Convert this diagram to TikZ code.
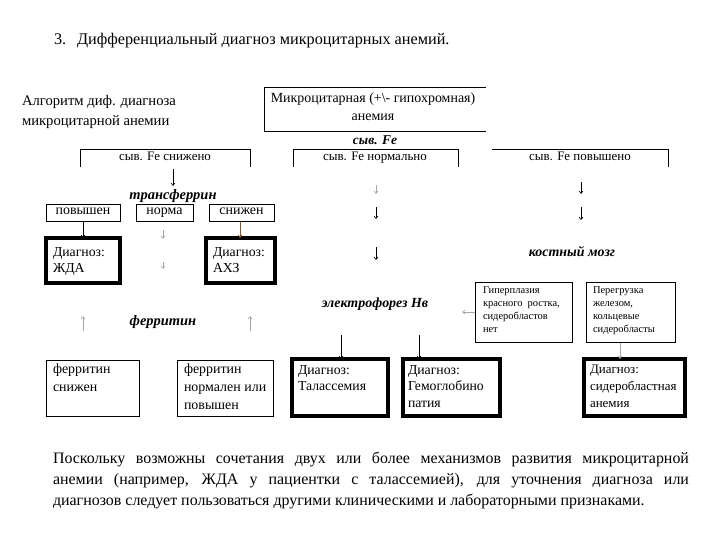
\documentclass[tikz,border=0pt]{standalone}
\usepackage{fontspec}
\setmainfont{Liberation Serif}
\usetikzlibrary{arrows.meta,fit}
\begin{document}
\begin{tikzpicture}[x=1bp,y=-1bp,
  every node/.style={inner sep=0pt, outer sep=0pt},
  frame/.style={fit={#1}, inner sep=0pt},
  thin/.style={draw, line width=0.9bp},
  thickb/.style={draw, line width=3.2bp},
  cen/.style={text height=0.7em, text depth=0.2em},
  txt/.style={font=\fontsize{14}{17}\selectfont, align=left},
  dtxt/.style={font=\fontsize{13.8}{17}\selectfont, align=left, anchor=north west},
  small/.style={font=\fontsize{13}{16}\selectfont, cen},
  lbl/.style={font=\fontsize{14.5}{17}\selectfont\bfseries\itshape, cen},
  arr/.style={-{Straight Barb[length=2.5bp,width=4bp]}, line width=0.6bp},
  pale/.style={arr, black!35}]
\useasboundingbox (0,0) rectangle (720,540);

% title and heading
\node[anchor=west, font=\fontsize{16.3}{18}\selectfont, cen] (title) at (54,42) {3.\hspace{11bp}Дифференциальный диагноз микроцитарных анемий.};
\node[anchor=west, align=left, font=\fontsize{14.7}{20}\selectfont] (algo) at (22,112) {Алгоритм диф. диагноза\\микроцитарной анемии};

% top box (open on the right)
\node[frame={(264,87)(486,131)}] (top) {};
\draw[line width=0.9bp] (top.north east) -- (top.north west) -- (top.south west) -- (top.south east);
\node[align=center, font=\fontsize{14}{18}\selectfont] (toptxt) at (373,107) {Микроцитарная (+\textbackslash- гипохромная)\\анемия};
\node[lbl, font=\fontsize{13.5}{16}\selectfont\bfseries\itshape] (syvfe) at (375,142) {сыв. Fe};

% row 1 (open at the bottom)
\node[frame={(80,149)(250,167)}] (fe1) {};
\node[frame={(293,149)(458,167)}] (fe2) {};
\node[frame={(492,149)(668,167)}] (fe3) {};
\draw[line width=0.9bp] (fe1.south west) -- (fe1.north west) -- (fe1.north east) -- (fe1.south east);
\draw[line width=0.9bp] (fe2.south west) -- (fe2.north west) -- (fe2.north east) -- (fe2.south east);
\draw[line width=0.9bp] (fe3.north west) -- (fe3.north east) -- (fe3.south east);
\node[small] (fe1t) at (165,158) {сыв. Fe снижено};
\node[small] (fe2t) at (375,158) {сыв. Fe нормально};
\node[small] (fe3t) at (580,158) {сыв. Fe повышено};

% transferrin branch
\node[lbl] (trans) at (173,197) {трансферрин};
\coordinate (a1) at (173,169);
\draw[arr] (a1) -- (173,186);
\node[thin, frame={(46,204)(120,221)}] (pov) {};
\node[thin, frame={(136,204)(193,221)}] (norm) {};
\node[thin, frame={(209,204)(274,221)}] (sniz) {};
\node[txt, cen] (povt) at (pov) {повышен};
\node[txt, cen] (normt) at (norm) {норма};
\node[txt, cen] (snizt) at (sniz) {снижен};

\node[thickb, frame={(46,238)(120,283)}] (zhda) {};
\node[thickb, frame={(206,238)(275,283)}] (ahz) {};
\node[dtxt] (zhdat) at (53,247) {Диагноз:\\ЖДА};
\node[dtxt] (ahzt) at (213,247) {Диагноз:\\АХЗ};
\draw[arr] (pov.south) -- (zhda.north);
\coordinate (s1) at (240,222);
\draw[arr, brown!70!black] (s1) -- (s1 |- ahz.north);
\coordinate (n1) at (163,230); \coordinate (n2) at (163,239);
\coordinate (n3) at (163,262); \coordinate (n4) at (163,269);
\draw[pale] (n1) -- (n2);
\draw[pale] (n3) -- (n4);

% normal Fe column
\coordinate (m1) at (376,185); \coordinate (m2) at (376,194);
\coordinate (m3) at (376,207); \coordinate (m4) at (376,219);
\coordinate (m5) at (376,247); \coordinate (m6) at (376,260);
\draw[pale] (m1) -- (m2);
\draw[arr] (m3) -- (m4);
\draw[arr] (m5) -- (m6);

% raised Fe column
\coordinate (r1) at (581,182); \coordinate (r2) at (581,194);
\coordinate (r3) at (581,207); \coordinate (r4) at (581,220);
\draw[arr] (r1) -- (r2);
\draw[arr] (r3) -- (r4);
\node[lbl, font=\fontsize{14}{16}\selectfont\bfseries\itshape] (kost) at (572,254) {костный мозг};

% ferritin
\node[lbl] (ferr) at (163,323) {ферритин};
\coordinate (f1) at (83,331); \coordinate (f2) at (83,316);
\coordinate (f3) at (250,331); \coordinate (f4) at (250,316);
\draw[pale] (f1) -- (f2);
\draw[pale] (f3) -- (f4);
\node[thin, frame={(46,360)(139,416)}] (fs) {};
\node[thin, frame={(177,360)(273,416)}] (fn) {};
\node[txt, anchor=north west, font=\fontsize{14}{18}\selectfont] (fst) at (53,364) {ферритин\\снижен};
\node[txt, anchor=north west, font=\fontsize{14}{18}\selectfont] (fnt) at (184,364) {ферритин\\нормален или\\повышен};

% electrophoresis
\node[lbl, font=\fontsize{14}{16}\selectfont\bfseries\itshape] (elek) at (375,305) {электрофорез Нв};
\node[thickb, frame={(292,359)(388,416)}] (tal) {};
\node[thickb, frame={(403,359)(500,416)}] (gem) {};
\coordinate (e1) at (341,335); \coordinate (e2) at (419,335);
\draw[arr] (e1) -- (e1 |- tal.north);
\draw[arr] (e2) -- (e2 |- gem.north);
\node[dtxt] (talt) at (298,365) {Диагноз:\\Талассемия};
\node[dtxt] (gemt) at (408,365) {Диагноз:\\Гемоглобино\\патия};

% bone marrow boxes
\node[thin, frame={(475,282)(572,342)}] (gip) {};
\node[thin, frame={(586,282)(675,342)}] (per) {};
\node[anchor=north west, align=left, font=\fontsize{10.5}{13}\selectfont] (gipt) at (483,287) {Гиперплазия\\красного\hspace{5bp}ростка,\\сидеробластов\\нет};
\node[anchor=north west, align=left, font=\fontsize{10.5}{13}\selectfont] (pert) at (593,287) {Перегрузка\\железом,\\кольцевые\\сидеробласты};
\coordinate (gl) at (462,312);
\draw[pale] (gip.west) -- (gl);
\node[thickb, frame={(584,359)(685,416)}] (sid) {};
\node[dtxt, font=\fontsize{13}{17}\selectfont] (sidt) at (590,365) {Диагноз:\\сидеробластная\\анемия};
\coordinate (pa) at (620,343);
\draw[pale] (pa) -- (pa |- sid.north);

% paragraph
\node[anchor=west, font=\fontsize{16}{21}\selectfont, cen] (p1) at (53,461) {\makebox[636bp][s]{Поскольку возможны сочетания двух или более механизмов развития микроцитарной}};
\node[anchor=west, font=\fontsize{16}{21}\selectfont, cen] (p2) at (53,482) {\makebox[636bp][s]{анемии (например, ЖДА у пациентки с талассемией), для уточнения диагноза или}};
\node[anchor=west, font=\fontsize{16}{21}\selectfont, cen] (p3) at (53,503) {диагнозов следует пользоваться другими клиническими и лабораторными признаками.};
\end{tikzpicture}
\end{document}
